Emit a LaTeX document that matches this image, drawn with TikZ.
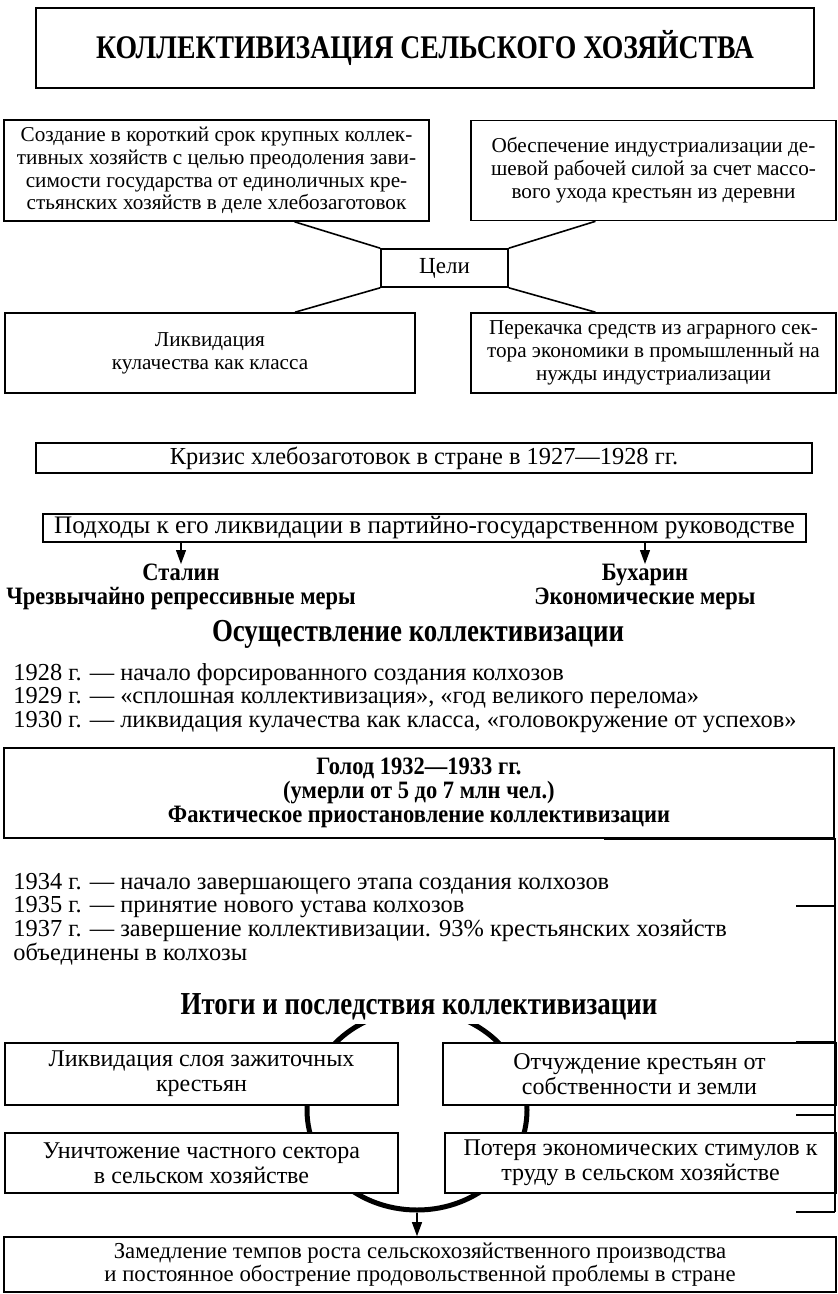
\documentclass[tikz,border=0pt]{standalone}
\usepackage{fontspec}
\setmainfont{Liberation Serif}
\newfontfamily\titleserif[FakeStretch=0.84]{Liberation Serif}
\newfontfamily\labelserif[FakeStretch=0.9]{Liberation Serif}
\usetikzlibrary{positioning,arrows.meta,shapes.geometric}

\tikzset{
  frame/.style={draw, line width=0.8pt, fill=white, inner sep=0pt, align=center},
  smalltext/.style={font=\fontsize{10.6}{11.4}\selectfont},
  plaintext/.style={font=\fontsize{12.2}{11.9}\selectfont},
  roomytext/.style={font=\fontsize{12}{12.5}\selectfont},
  boldtext/.style={font=\labelserif\bfseries\fontsize{12.5}{12}\selectfont},
  headtext/.style={font=\titleserif\bfseries\fontsize{16}{16}\selectfont},
  linkline/.style={line width=0.8pt},
  downarrow/.style={line width=0.6pt, -{Triangle[length=7pt,width=5pt]}},
  scanline/.style={line width=0.7pt}
}

\begin{document}
\begin{tikzpicture}[x=0.5pt,y=-0.5pt]
  \useasboundingbox (0,0) rectangle (837,1294);

  % title
  \node[frame, minimum width=389pt, minimum height=40pt,
        font=\titleserif\bfseries\fontsize{16.5}{17}\selectfont] (title) at (425,48)
    {КОЛЛЕКТИВИЗАЦИЯ СЕЛЬСКОГО ХОЗЯЙСТВА};

  % goals
  \node[frame, smalltext, minimum width=212.5pt, minimum height=50.5pt] (goalA) at (216.5,170.5)
    {Создание в короткий срок крупных коллек-\\тивных хозяйств с целью преодоления зави-\\симости государства от единоличных кре-\\стьянских хозяйств в деле хлебозаготовок};
  \node[frame, smalltext, minimum width=182.5pt, minimum height=50pt] (goalB) at (653.5,170.5)
    {Обеспечение индустриализации де-\\шевой рабочей силой за счет массо-\\вого ухода крестьян из деревни};
  \node[frame, font=\fontsize{11.5}{12}\selectfont, minimum width=63.5pt, minimum height=19pt] (goals) at (444.5,268) {Цели};
  \node[frame, smalltext, minimum width=205pt, minimum height=40pt] (goalC) at (210,353)
    {Ликвидация\\кулачества как класса};
  \node[frame, smalltext, minimum width=182.5pt, minimum height=40pt] (goalD) at (653.5,353)
    {Перекачка средств из аграрного сек-\\тора экономики в промышленный на\\нужды индустриализации};

  \draw[linkline] ([xshift=39pt]goalA.south) -- (goals.north west);
  \draw[linkline] ([xshift=-29pt]goalB.south) -- (goals.north east);
  \draw[linkline] ([xshift=42.5pt]goalC.north) -- (goals.south west);
  \draw[linkline] ([xshift=-29pt]goalD.north) -- (goals.south east);

  % crisis and ways out
  \node[frame, plaintext, minimum width=388pt, minimum height=15pt] (crisis) at (424,458)
    {Кризис хлебозаготовок в стране в 1927—1928 гг.};
  \node[frame, font=\fontsize{12.6}{12}\selectfont, minimum width=381.5pt, minimum height=14pt] (ways) at (424.5,528)
    {Подходы к его ликвидации в партийно-государственном руководстве};
  \node[boldtext, align=center, inner sep=0pt, anchor=north] (stalin) at (181,564)
    {Сталин\\Чрезвычайно репрессивные меры};
  \node[boldtext, align=center, inner sep=0pt, anchor=north] (bukharin) at (645,564)
    {Бухарин\\Экономические меры};
  \draw[downarrow] (ways.south -| stalin.north) -- (stalin.north);
  \draw[downarrow] (ways.south -| bukharin.north) -- (bukharin.north);

  % collectivization
  \node[headtext] (doing) at (418,634) {Осуществление коллективизации};
  \node[plaintext, align=left, anchor=west, inner sep=0pt] (stagesA) at (13,698)
    {1928 г. — начало форсированного создания колхозов\\
     1929 г. — «сплошная коллективизация», «год великого перелома»\\
     1930 г. — ликвидация кулачества как класса, «головокружение от успехов»};
  \node[frame, boldtext, minimum width=415pt, minimum height=45pt] (famine) at (419,793)
    {Голод 1932—1933 гг.\\(умерли от 5 до 7 млн чел.)\\Фактическое приостановление коллективизации};
  \node[plaintext, align=left, anchor=west, inner sep=0pt] (stagesB) at (13,919)
    {1934 г. — начало завершающего этапа создания колхозов\\
     1935 г. — принятие нового устава колхозов\\
     1937 г. — завершение коллективизации. 93\% крестьянских хозяйств\\
     объединены в колхозы};

  % results
  \node[ellipse, draw, line width=2.5pt, minimum width=110pt, minimum height=100pt,
        inner sep=0pt] (cycle) at (417,1110) {};
  \node[headtext, fill=white, inner sep=2pt] (results) at (419,1007)
    {Итоги и последствия коллективизации};
  \node[frame, roomytext, minimum width=196.5pt, minimum height=31pt] (resA) at (201.5,1074)
    {Ликвидация слоя зажиточных\\крестьян};
  \node[frame, roomytext, minimum width=196.5pt, minimum height=31pt] (resB) at (639.5,1074)
    {Отчуждение крестьян от\\собственности и земли};
  \node[frame, roomytext, minimum width=196.5pt, minimum height=30pt] (resC) at (201.5,1163)
    {Уничтожение частного сектора\\в сельском хозяйстве};
  \node[frame, roomytext, minimum width=195.5pt, minimum height=30pt] (resD) at (640.5,1163)
    {Потеря экономических стимулов к\\труду в сельском хозяйстве};
  \node[frame, font=\fontsize{11.4}{11.5}\selectfont, minimum width=416pt, minimum height=27.5pt] (outcome) at (420,1264.5)
    {Замедление темпов роста сельскохозяйственного производства\\и постоянное обострение продовольственной проблемы в стране};
  \draw[downarrow] (cycle.south) -- (cycle.south |- outcome.north);

  % stray rule on the right edge
  \draw[scanline] (604,839) -- (835,839) -- (835,1212);
  \foreach \y in {906,1042,1115,1212}
    \draw[scanline] (796,\y) -- (835,\y);
\end{tikzpicture}
\end{document}
